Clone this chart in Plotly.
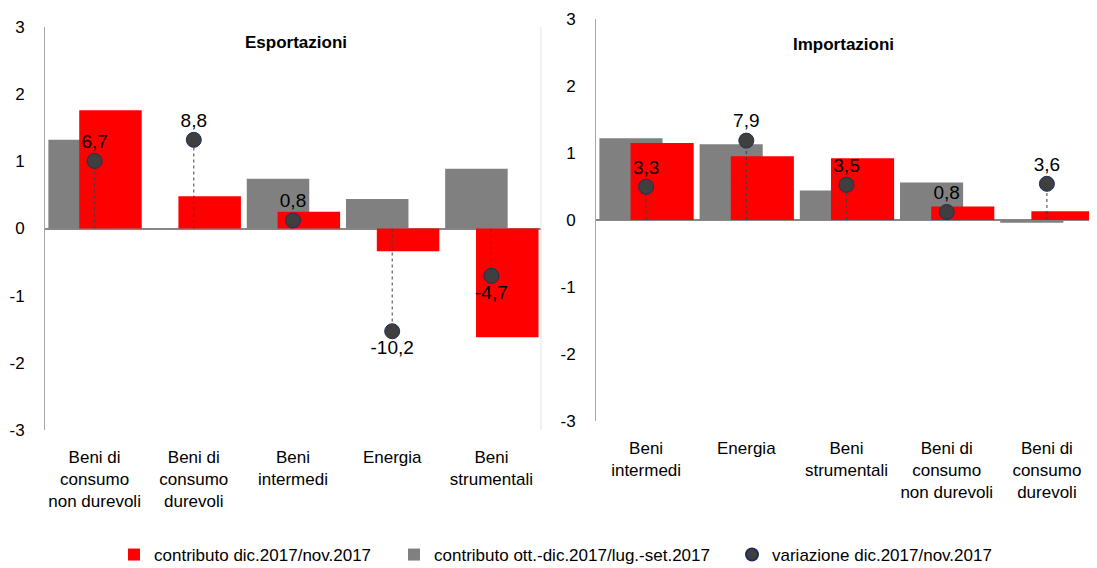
import plotly.graph_objects as go

# ---- data ----
cats_exp = ["Beni di<br>consumo<br>non durevoli", "Beni di<br>consumo<br>durevoli",
            "Beni<br>intermedi", "Energia", "Beni<br>strumentali"]
exp_contrib_q = [1.32, 0.0, 0.74, 0.44, 0.89]      # contributo ott.-dic.2017/lug.-set.2017
exp_contrib_m = [1.76, 0.48, 0.25, -0.34, -1.62]   # contributo dic.2017/nov.2017
exp_var = [6.7, 8.8, 0.8, -10.2, -4.7]             # variazione dic.2017/nov.2017

cats_imp = ["Beni<br>intermedi", "Energia", "Beni<br>strumentali",
            "Beni di<br>consumo<br>non durevoli", "Beni di<br>consumo<br>durevoli"]
imp_contrib_q = [1.22, 1.13, 0.44, 0.56, -0.04]
imp_contrib_m = [1.15, 0.95, 0.92, 0.20, 0.13]
imp_var = [3.3, 7.9, 3.5, 0.8, 3.6]

y_tickvals = [-3, -2, -1, 0, 1, 2, 3]
y_ticktext = ["-3", "-2", "-1", "0", "1", "2", "3"]

name_m = "contributo dic.2017/nov.2017"
name_q = "contributo ott.-dic.2017/lug.-set.2017"
name_v = "variazione dic.2017/nov.2017"

RED = "#FF0000"
GRAY = "#808080"
DOT = "#3F3F3F"
FONT = "Liberation Sans, Arial, sans-serif"
FS = 17

def fmt(v):
    return ("%.1f" % v).replace(".", ",")

fig = go.Figure()

def add_panel(cats, q, m, var, xa, ya, ya2, legend_on):
    fig.add_trace(go.Bar(x=cats, y=q, name=name_q, marker_color=GRAY, marker_line_width=0,
                         width=0.63, offset=-0.466, xaxis=xa, yaxis=ya,
                         showlegend=legend_on, legend="legend2", hoverinfo="skip"))
    fig.add_trace(go.Bar(x=cats, y=m, name=name_m, marker_color=RED, marker_line_width=0,
                         width=0.63, offset=-0.155, xaxis=xa, yaxis=ya,
                         showlegend=legend_on, legend="legend", hoverinfo="skip"))
    # drop lines
    lx, ly = [], []
    for c, v in zip(cats, var):
        lx += [c, c, None]
        ly += [0, v, None]
    fig.add_trace(go.Scatter(x=lx, y=ly, mode="lines", line=dict(color=DOT, width=1, dash="dot"),
                             xaxis=xa, yaxis=ya2, showlegend=False, hoverinfo="skip"))
    fig.add_trace(go.Scatter(x=cats, y=var, mode="markers", name=name_v,
                             marker=dict(color=DOT, size=15, line=dict(width=1, color="#1F2F5A")),
                             xaxis=xa, yaxis=ya2, showlegend=legend_on, legend="legend3",
                             hoverinfo="skip"))
    fig.add_trace(go.Scatter(x=cats, y=var, mode="markers+text", text=[fmt(v) for v in var],
                             textposition=["top center" if v >= 0 else "bottom center" for v in var],
                             textfont=dict(family=FONT, size=19, color="#000000"),
                             marker=dict(size=12, opacity=0), xaxis=xa, yaxis=ya2,
                             showlegend=False, hoverinfo="skip"))

add_panel(cats_exp, exp_contrib_q, exp_contrib_m, exp_var, "x", "y", "y2", True)
add_panel(cats_imp, imp_contrib_q, imp_contrib_m, imp_var, "x2", "y3", "y4", False)

# the page body has an 8px margin: the figure is drawn 8px in from the window corner
OFF = 8
W, H = 1097 - OFF, 568 - OFF
def px(xp): return (xp - OFF) / W
def py(yp): return 1 - (yp - OFF) / H

yaxis_common = dict(range=[-3, 3], tickvals=y_tickvals, ticktext=y_ticktext,
                    showgrid=False, zeroline=True,
                    zerolinecolor="#878787", zerolinewidth=2,
                    showline=True, linecolor="#A6A6A6", linewidth=1, ticks="",
                    ticklabelstandoff=16, automargin=False,
                    tickfont=dict(family=FONT, size=17, color="#000000"))
xaxis_common = dict(range=[-0.5, 4.5], showgrid=False, zeroline=False, showline=False,
                    ticks="", automargin=False, ticklabelstandoff=15, tickangle=0,
                    tickfont=dict(family=FONT, size=FS, color="#000000"))

leg_common = dict(orientation="h", yanchor="middle", xanchor="left",
                  font=dict(family=FONT, size=FS, color="#000000"), itemwidth=30,
                  bgcolor="rgba(0,0,0,0)")

fig.update_layout(
    width=W, height=H,
    margin=dict(l=0, r=0, t=0, b=0, autoexpand=False),
    paper_bgcolor="white", plot_bgcolor="white",
    barmode="overlay",
    font=dict(family=FONT, size=FS, color="#000000"),
    xaxis=dict(domain=[px(45), px(541)], anchor="y", **xaxis_common),
    yaxis=dict(domain=[py(430), py(27)], anchor="x", **yaxis_common),
    yaxis2=dict(range=[-20, 20], overlaying="y", anchor="x", visible=False),
    xaxis2=dict(domain=[px(596), 1.0], anchor="y3", **xaxis_common),
    yaxis3=dict(domain=[py(421), py(19)], anchor="x2", **yaxis_common),
    yaxis4=dict(range=[-20, 20], overlaying="y3", anchor="x2", visible=False),
    legend=dict(x=px(114), y=py(555), **leg_common),
    legend2=dict(x=px(394), y=py(555), **leg_common),
    legend3=dict(x=px(732), y=py(555), itemsizing="constant", **leg_common),
    annotations=[
        dict(text="<b>Esportazioni</b>", x=px(296), y=py(42), xref="paper", yref="paper",
             xanchor="center", yanchor="middle",
             showarrow=False, font=dict(family=FONT, size=17, color="#000000")),
        dict(text="<b>Importazioni</b>", x=px(843), y=py(44), xref="paper", yref="paper",
             xanchor="center", yanchor="middle",
             showarrow=False, font=dict(family=FONT, size=17, color="#000000")),
    ],
    shapes=[dict(type="line", xref="x domain", yref="y domain", x0=1, x1=1, y0=0, y1=1,
                 line=dict(color="#E3E3E3", width=1))],
)

fig.write_html("out.html")
